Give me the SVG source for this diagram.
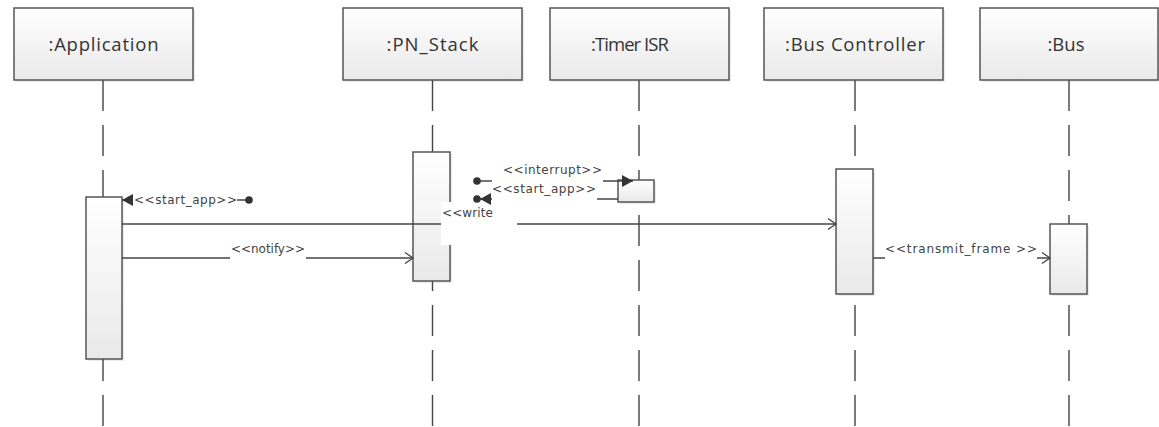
<svg xmlns="http://www.w3.org/2000/svg" width="1159" height="427" viewBox="0 0 1159 427">
<defs>
<linearGradient id="g" x1="0" y1="0" x2="0" y2="1">
<stop offset="0" stop-color="#ffffff"/>
<stop offset="1" stop-color="#e9e9e9"/>
</linearGradient>
<marker id="open" markerUnits="userSpaceOnUse" markerWidth="14" markerHeight="14" viewBox="0 0 14 14" refX="12" refY="7" orient="auto">
<path d="M4,1.5 L12,7 L4,12.5" fill="none" stroke="#444" stroke-width="1.3"/>
</marker>
<marker id="fill" markerUnits="userSpaceOnUse" markerWidth="14" markerHeight="14" viewBox="0 0 14 14" refX="12" refY="7" orient="auto">
<path d="M1,1 L12,7 L1,13 Z" fill="#333"/>
</marker>
</defs>
<style>
.box{fill:url(#g);stroke:#555;stroke-width:1.5}
.sh{fill:#000;opacity:0.08}
.hd{font-family:"Open Sans","DejaVu Sans",sans-serif;font-size:18.5px;fill:#333;text-anchor:middle}
.life{stroke:#444;stroke-width:1.4;stroke-dasharray:31 14;fill:none}
.act{fill:url(#g);stroke:#555;stroke-width:1.5}
.msg{stroke:#444;stroke-width:1.3;fill:none}
.lb{font-family:"DejaVu Sans",sans-serif;font-size:12px;fill:#444}
.bg{fill:#fff}
.dot{fill:#333}
</style>

<g id="lifelines">
<line class="life" x1="103" y1="80" x2="103" y2="427"/>
<line class="life" x1="432.5" y1="80" x2="432.5" y2="427"/>
<line class="life" x1="639" y1="80" x2="639" y2="427"/>
<line class="life" x1="855" y1="80" x2="855" y2="427"/>
<line class="life" x1="1069" y1="80" x2="1069" y2="427"/>
</g>

<g id="application">
<rect class="sh" x="16" y="10" width="179" height="72"/>
<rect class="box" x="14" y="8" width="179" height="72"/>
<text class="hd" x="103.5" y="51" textLength="110">:Application</text>
<rect class="sh" x="88" y="199" width="36" height="162"/>
<rect class="act" x="86" y="197" width="36" height="162"/>
</g>

<g id="pn_stack">
<rect class="sh" x="345" y="10" width="179" height="72"/>
<rect class="box" x="343" y="8" width="179" height="72"/>
<text class="hd" x="432.5" y="51" textLength="92">:PN_Stack</text>
<rect class="sh" x="415" y="154" width="37" height="129"/>
<rect class="act" x="413" y="152" width="37" height="129"/>
</g>

<g id="timer_isr">
<rect class="sh" x="552" y="10" width="179" height="72"/>
<rect class="box" x="550" y="8" width="179" height="72"/>
<text class="hd" x="630" y="51" textLength="78">:Timer ISR</text>
<rect class="sh" x="620" y="182" width="36" height="22"/>
<rect class="act" x="618" y="180" width="36" height="22"/>
</g>

<g id="bus_controller">
<rect class="sh" x="766" y="10" width="179" height="72"/>
<rect class="box" x="764" y="8" width="179" height="72"/>
<text class="hd" x="855" y="51" textLength="140">:Bus Controller</text>
<rect class="sh" x="838" y="171" width="37" height="125"/>
<rect class="act" x="836" y="169" width="37" height="125"/>
</g>

<g id="bus">
<rect class="sh" x="982" y="10" width="179" height="72"/>
<rect class="box" x="980" y="8" width="178" height="72"/>
<text class="hd" x="1066" y="51">:Bus</text>
<rect class="sh" x="1052" y="226" width="37" height="70"/>
<rect class="act" x="1050" y="224" width="37" height="70"/>
</g>

<g id="connectors">
<line class="msg" x1="249" y1="200" x2="122" y2="200" marker-end="url(#fill)"/>
<circle class="dot" cx="249" cy="200" r="3.8"/>
<rect class="bg" x="133" y="192" width="104" height="15"/>
<text class="lb" x="134" y="204" textLength="103">&lt;&lt;start_app&gt;&gt;</text>

<line class="msg" x1="122" y1="224" x2="836" y2="224" marker-end="url(#open)"/>
<rect class="bg" x="441" y="202" width="76" height="43"/>
<text class="lb" x="442" y="217" textLength="51">&lt;&lt;write</text>

<line class="msg" x1="122" y1="258" x2="413" y2="258" marker-end="url(#open)"/>
<rect class="bg" x="230" y="241" width="76" height="20"/>
<text class="lb" x="231" y="253" textLength="74">&lt;&lt;notify&gt;&gt;</text>

<line class="msg" x1="477" y1="181" x2="633" y2="181" marker-end="url(#fill)"/>
<circle class="dot" cx="477" cy="181" r="3.8"/>
<rect class="bg" x="492" y="162" width="111" height="24"/>
<text class="lb" x="503" y="174" textLength="99">&lt;&lt;interrupt&gt;&gt;</text>

<line class="msg" x1="618" y1="199" x2="480" y2="199" marker-end="url(#fill)"/>
<circle class="dot" cx="477" cy="199" r="3.8"/>
<rect class="bg" x="492" y="183" width="105" height="20"/>
<text class="lb" x="492" y="193" textLength="104">&lt;&lt;start_app&gt;&gt;</text>

<line class="msg" x1="873" y1="258" x2="1050" y2="258" marker-end="url(#open)"/>
<rect class="bg" x="885" y="241" width="152" height="20"/>
<text class="lb" x="885" y="253" textLength="152">&lt;&lt;transmit_frame &gt;&gt;</text>
</g>
</svg>
